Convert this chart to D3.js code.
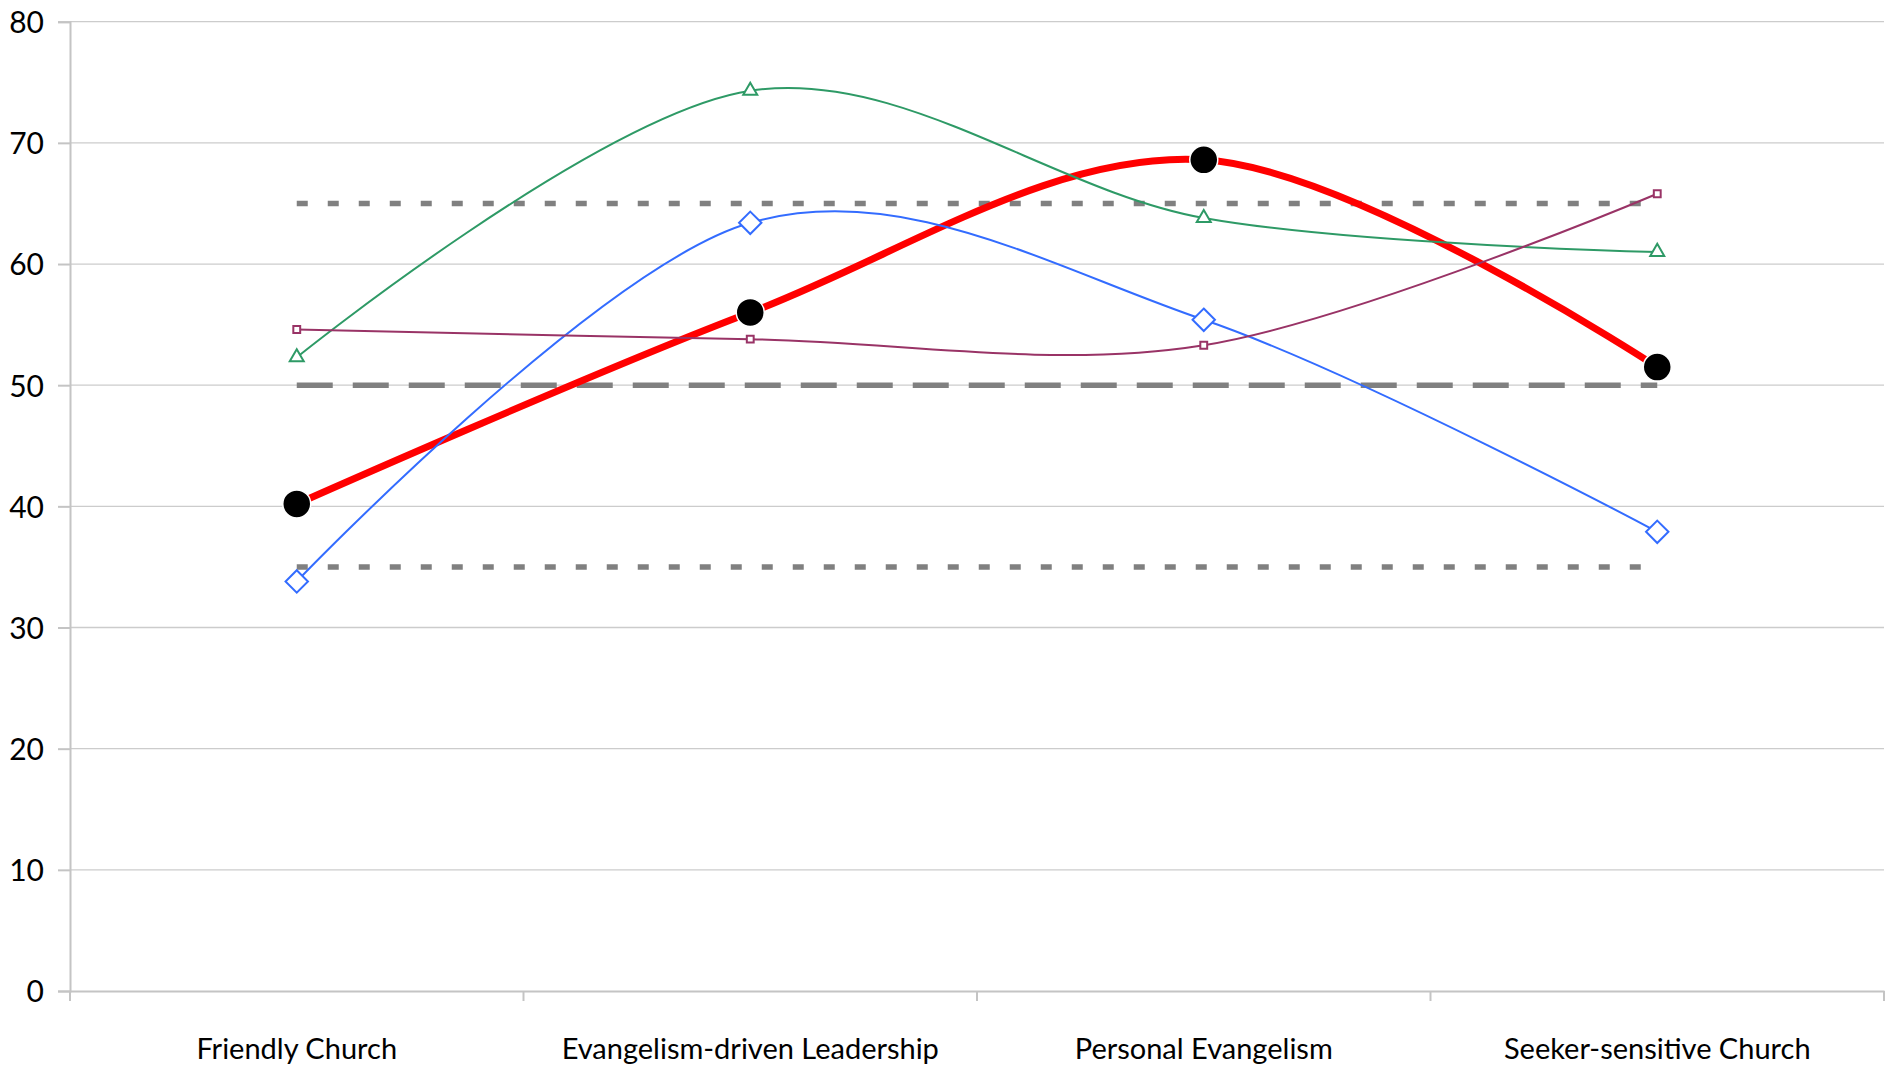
<!DOCTYPE html>
<html>
<head>
<meta charset="utf-8">
<script src="https://cdn.jsdelivr.net/npm/d3@7"></script>
<style>
  body { margin: 0; background: #fff; }
  text { font-family: "Lato", "Open Sans", sans-serif; fill: #000; }
</style>
</head>
<body>
<div id="chart"></div>
<script>
// categories along the x axis
const categories = ["Friendly Church", "Evangelism-driven Leadership", "Personal Evangelism", "Seeker-sensitive Church"];
const yTicks = [0, 10, 20, 30, 40, 50, 60, 70, 80];

// series values
const mainScores   = [40.2, 56.0, 68.6, 51.5];
const blueScores   = [33.8, 63.4, 55.4, 37.9];
const greenScores  = [52.3, 74.3, 63.8, 61.0];
const purpleScores = [54.6, 53.8, 53.3, 65.8];

// horizontal reference lines
const upperBand = 65;
const midLine   = 50;
const lowerBand = 35;

const width = 1891, height = 1069;
const margin = {top: 21.7, right: 7, bottom: 78, left: 70};

let svg = d3.select("#chart").append("svg")
    .attr("width", width)
    .attr("height", height);

let xScale = d3.scaleBand()
    .domain(categories)
    .range([margin.left, width - margin.right])
    .padding(0);

let yScale = d3.scaleLinear()
    .domain([0, 80])
    .range([height - margin.bottom, margin.top]);

let cx = d => xScale(d) + xScale.bandwidth() / 2;

// gridlines
svg.append("g").selectAll("line").data(yTicks.filter(t => t > 0)).enter()
    .append("line")
    .attr("x1", margin.left).attr("x2", width - margin.right)
    .attr("y1", d => yScale(d)).attr("y2", d => yScale(d))
    .attr("stroke", "#cccccc").attr("stroke-width", 1.3);

// y axis
let yAxis = svg.append("g")
    .attr("transform", "translate(" + margin.left + ",0)")
    .call(d3.axisLeft(yScale).tickValues(yTicks).tickSize(12).tickPadding(14));
yAxis.select(".domain").attr("stroke", "#c4c4c4").attr("stroke-width", 2);
yAxis.selectAll(".tick line").attr("stroke", "#c4c4c4").attr("stroke-width", 2);
yAxis.selectAll(".tick text").style("font-size", "30px").attr("dy", "0.36em");

// x axis
let xAxis = svg.append("g")
    .attr("transform", "translate(0," + yScale(0) + ")")
    .call(d3.axisBottom(xScale).tickSize(0).tickSizeOuter(0).tickPadding(0));
xAxis.select(".domain").attr("stroke", "#c4c4c4").attr("stroke-width", 2);
xAxis.selectAll(".tick text").style("font-size", "29px").attr("y", 68).attr("dy", 0);
// ticks between categories
let bounds = categories.map(c => xScale(c)).concat([width - margin.right]);
xAxis.selectAll("line.sep").data(bounds).enter()
    .append("line").attr("class", "sep")
    .attr("x1", d => d).attr("x2", d => d)
    .attr("y1", 0).attr("y2", 10)
    .attr("stroke", "#c4c4c4").attr("stroke-width", 2);

// reference lines
let x0 = cx(categories[0]), x1 = cx(categories[categories.length - 1]);
[[upperBand, "11 20"], [lowerBand, "11 20"], [midLine, "36 20"]].forEach(r => {
    svg.append("line")
        .attr("x1", x0).attr("x2", x1)
        .attr("y1", yScale(r[0])).attr("y2", yScale(r[0]))
        .attr("stroke", "#808080").attr("stroke-width", 5.5)
        .attr("stroke-dasharray", r[1]);
});

let line = d3.line()
    .x((d, i) => cx(categories[i]))
    .y(d => yScale(d))
    .curve(d3.curveCardinal.tension(0));

// main series
svg.append("path").datum(mainScores)
    .attr("d", line).attr("fill", "none")
    .attr("stroke", "#ff0000").attr("stroke-width", 7);

let thinSeries = [
    {values: blueScores, color: "#336cff", marker: d3.symbolDiamond2, size: 320},
    {values: greenScores, color: "#2e9a66", marker: d3.symbolTriangle2, size: 140},
    {values: purpleScores, color: "#993366", marker: d3.symbolSquare2, size: 60}
];

thinSeries.forEach(s => {
    svg.append("path").datum(s.values)
        .attr("d", line).attr("fill", "none")
        .attr("stroke", s.color).attr("stroke-width", 2);
});

// main markers
svg.append("g").selectAll("circle").data(mainScores).enter()
    .append("circle")
    .attr("cx", (d, i) => cx(categories[i]))
    .attr("cy", d => yScale(d))
    .attr("r", 14)
    .attr("fill", "#000").attr("stroke", "#fff").attr("stroke-width", 1.5);

thinSeries.forEach(s => {
    svg.append("g").selectAll("path").data(s.values).enter()
        .append("path")
        .attr("d", d3.symbol().type(s.marker).size(s.size))
        .attr("transform", (d, i) => "translate(" + cx(categories[i]) + "," + yScale(d) + ")")
        .attr("fill", "#fff").attr("stroke", s.color).attr("stroke-width", 2);
});
</script>
</body>
</html>
